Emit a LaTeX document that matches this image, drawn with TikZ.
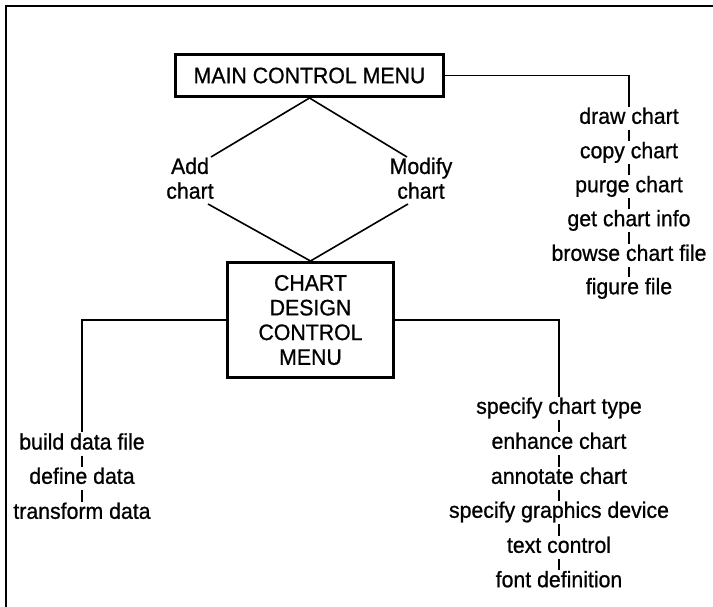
\documentclass[tikz,border=0pt]{standalone}
\usepackage{fontspec}
\setmainfont{Liberation Sans}[FakeBold=0.8,FakeStretch=0.95]
\usetikzlibrary{calc}
\begin{document}
\begin{tikzpicture}[x=1pt,y=-1pt,
  every node/.style={font=\fontsize{22.4}{24.7}\selectfont},
  menubox/.style={draw,line width=3pt,align=center,inner sep=0pt},
  listitem/.style={inner xsep=0pt,inner ysep=1.5pt,text height=15.5pt,text depth=4.5pt},
  optlabel/.style={align=center,inner sep=0pt},
  link/.style={line width=1.6pt}]
\useasboundingbox (0,0) rectangle (713,607);
% frame
\draw[line width=2.2pt] (6,607) -- (6,6) -- (713,6);

% menus
\node[menubox,minimum width=268pt,minimum height=42pt] (main) at (309.5,75.5) {MAIN CONTROL MENU};
\node[menubox,minimum width=166pt,minimum height=115pt] (cdc) at (310.5,320) {CHART\\DESIGN\\CONTROL\\MENU};

% options between the menus
\node[optlabel] (add) at (190,178.3) {Add\\chart};
\node[optlabel] (modify) at (421,178.3) {Modify\\chart};

% main menu functions
\node[listitem] (draw)   at (629,118.3) {draw chart};
\node[listitem] (copy)   at (629,152.7) {copy chart};
\node[listitem] (purge)  at (629,186.7) {purge chart};
\node[listitem] (info)   at (629,220.7) {get chart info};
\node[listitem] (browse) at (629,255.3) {browse chart file};
\node[listitem] (figure) at (629,288.7) {figure file};

% data functions
\node[listitem] (build)     at (82,444)   {build data file};
\node[listitem] (define)    at (82,478.3) {define data};
\node[listitem] (transform) at (82,513.3) {transform data};

% chart design functions
\node[listitem] (type)     at (559,408.3) {specify chart type};
\node[listitem] (enhance)  at (559,443.3) {enhance chart};
\node[listitem] (annotate) at (559,478.3) {annotate chart};
\node[listitem] (device)   at (559,512.3) {specify graphics device};
\node[listitem] (textctl)  at (559,547.3) {text control};
\node[listitem] (fontdef)  at (559,581.7) {font definition};

% connectors
\draw[link] (main.south) -- ($(add)+(21,-21.3)$);
\draw[link] ($(add)+(18,25.7)$) -- (cdc.north);
\draw[link] (main.south) -- ($(modify)+(-14,-21.3)$);
\draw[link] ($(modify)+(-13,25.7)$) -- (cdc.north);

\draw[link] (main.east) -| (draw.north);
\draw[link] (cdc.west) -| (build.north);
\draw[link] (cdc.east) -| (type.north);

\foreach \a/\b in {draw/copy,copy/purge,purge/info,info/browse,browse/figure,
                   build/define,define/transform,
                   type/enhance,enhance/annotate,annotate/device,device/textctl,textctl/fontdef}
  \draw[link] (\a.south) -- (\b.north);
\end{tikzpicture}
\end{document}
